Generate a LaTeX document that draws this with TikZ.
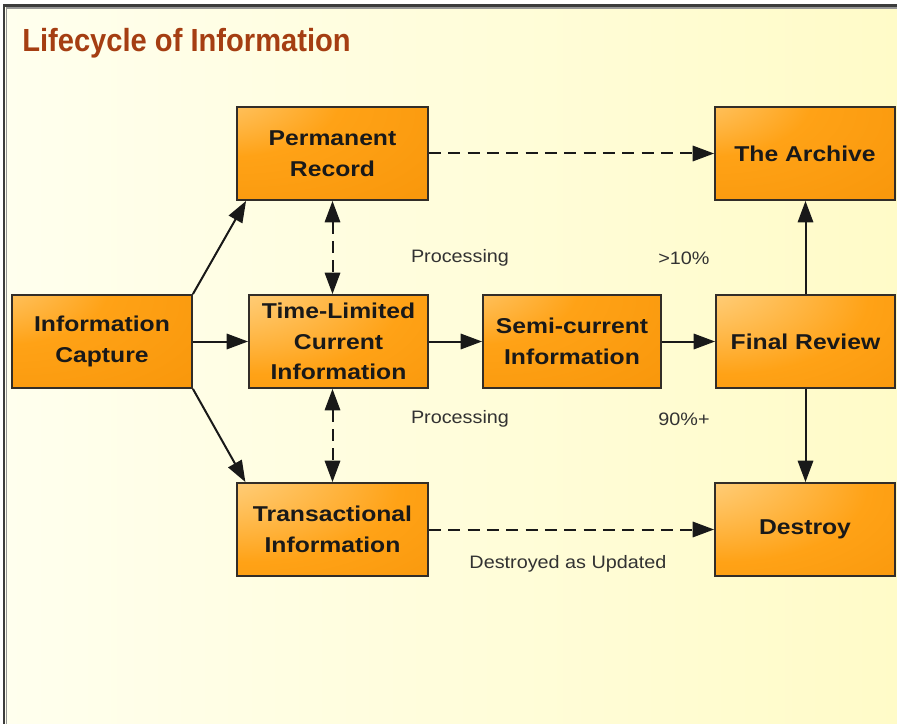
\documentclass[tikz,border=0pt]{standalone}
\usepackage{fontspec}
\setmainfont{Liberation Sans}
\newfontfamily\boxfont[FakeStretch=1.15]{Liberation Sans}
\newfontfamily\notefont[FakeStretch=1.1]{Liberation Sans}
\newfontfamily\headfont[FakeStretch=0.91]{Liberation Sans}
\usetikzlibrary{arrows.meta}

% palette
\definecolor{paperleft}{RGB}{255,255,238}
\definecolor{paperright}{RGB}{255,251,200}
\definecolor{framegray}{RGB}{60,60,60}
\definecolor{framelight}{RGB}{150,150,150}
\definecolor{titlebrown}{RGB}{165,62,18}
\definecolor{boxwhite}{RGB}{255,252,245}
\definecolor{boxlight}{RGB}{255,205,120}
\definecolor{boxorange}{RGB}{255,162,22}
\definecolor{boxdeep}{RGB}{242,140,0}
\definecolor{boxline}{RGB}{50,45,40}
\definecolor{linegray}{RGB}{25,25,25}
\definecolor{notegray}{RGB}{50,50,50}

% orange fill with a pale glow in the upper left corner
\pgfdeclareradialshading{glowsmall}{\pgfpoint{-45bp}{45bp}}{%
  color(0bp)=(boxwhite); color(9bp)=(boxlight); color(30bp)=(boxorange); color(80bp)=(boxdeep)}
\pgfdeclareradialshading{glowlarge}{\pgfpoint{-45bp}{45bp}}{%
  color(0bp)=(boxwhite); color(15bp)=(boxlight); color(40bp)=(boxorange); color(80bp)=(boxdeep)}

\tikzset{
  box/.style={draw=boxline, line width=1.4pt, minimum height=69.75pt,
    minimum width=135pt, align=center, inner sep=2pt, text=black!90,
    font=\boxfont\bfseries\fontsize{16.1pt}{23pt}\selectfont},
  widebox/.style={box, minimum width=143.25pt},
  glowA/.style={shading=glowsmall},
  glowB/.style={shading=glowlarge},
  tip/.tip={Triangle[length=16pt,width=11.5pt]},
  link/.style={line width=1.5pt, draw=linegray, -tip},
  dashlink/.style={link, dash pattern=on 9pt off 5.5pt},
  dashboth/.style={dashlink, tip-tip},
  note/.style={font=\notefont\fontsize{13.5pt}{16pt}\selectfont, text=notegray, inner sep=0pt},
}

\begin{document}
\begin{tikzpicture}[x=0.75pt,y=-0.75pt]
  % page, paper and frame
  \fill[white] (0,0) rectangle (897,724);
  \useasboundingbox (0,0) rectangle (897,724);
  \shade[left color=paperleft, right color=paperright] (5,7) rectangle (897,724);
  \draw[framelight, line width=0.9pt] (6.5,724) -- (6.5,8) -- (897,8);
  \draw[framegray, line width=1.8pt] (4,724) -- (4,5.5) -- (897,5.5);

  % title
  \node[anchor=base west, inner sep=0pt, text=titlebrown,
        font=\headfont\bfseries\fontsize{24pt}{28pt}\selectfont]
        (title) at (22,52) {Lifecycle of Information};

  % boxes
  \node[widebox, glowA] (PR) at (332.5,153.5) {Permanent\\Record};
  \node[box, glowA]     (AR) at (805,153.5)   {The Archive};
  \node[box, glowA]     (IC) at (102,341.5)   {Information\\Capture};
  \node[box, glowB, minimum width=134.25pt] (TL) at (338.5,341.5) {Time-Limited\\Current\\Information};
  \node[box, glowA, minimum width=133.5pt]  (SC) at (572,341.5)   {Semi-current\\Information};
  \node[box, glowB, minimum width=134.25pt] (FR) at (805.5,341.5) {Final Review};
  \node[widebox, glowB] (TR) at (332.5,529.5) {Transactional\\Information};
  \node[box, glowB]     (DE) at (805,529.5)   {Destroy};

  % notes
  \node[note] (proc1) at (460,258) {Processing};
  \node[note] (pct1)  at (684,258) {>10\%};
  \node[note] (proc2) at (460,419) {Processing};
  \node[note] (pct2)  at (684,419) {90\%+};
  \node[note] (gone)  at (568,564) {Destroyed as Updated};

  % connectors
  \draw[link] (IC.north east) -- ([xshift=7.5pt]PR.south west);
  \draw[link] (IC.east) -- (TL.west);
  \draw[link] (IC.south east) -- ([xshift=7pt]TR.north west);
  \draw[dashboth] (PR.south) -- (PR.south |- TL.north);
  \draw[dashboth] (TL.south -| TR.north) -- (TR.north);
  \draw[dashlink] (PR.east) -- (AR.west);
  \draw[link] (TL.east) -- (SC.west);
  \draw[link] (SC.east) -- (FR.west);
  \draw[link] (FR.north) -- (FR.north |- AR.south);
  \draw[link] (FR.south) -- (FR.south |- DE.north);
  \draw[dashlink] (TR.east) -- (DE.west);
\end{tikzpicture}
\end{document}
